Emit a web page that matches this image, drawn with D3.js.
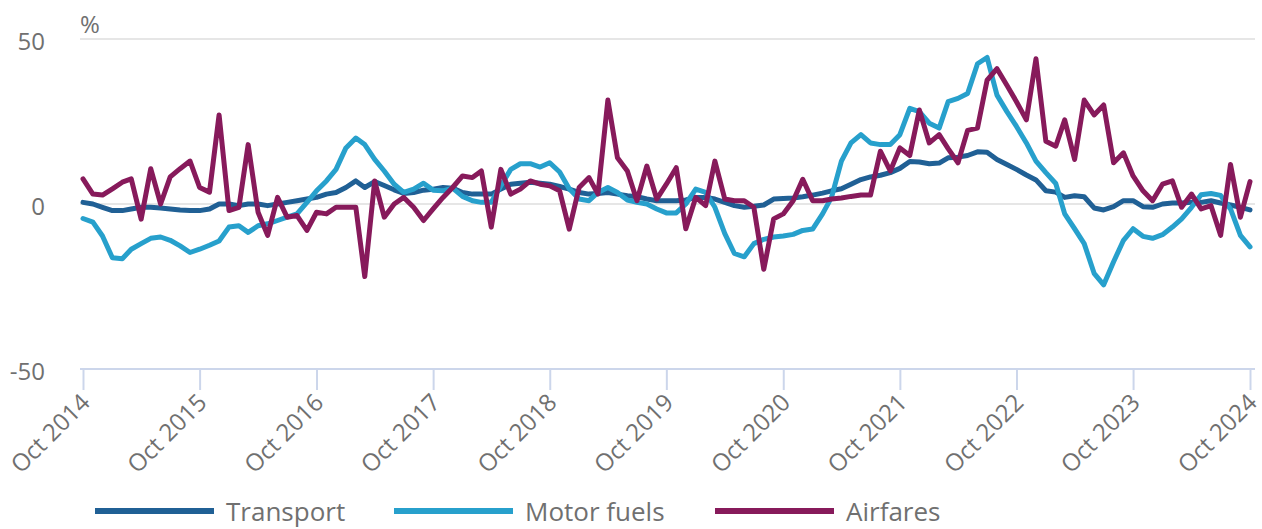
<!DOCTYPE html>
<html>
<head>
<meta charset="utf-8">
<script src="https://cdn.jsdelivr.net/npm/d3@7"></script>
<style>
  body { margin: 0; background: #fff; }
  text { font-family: "Open Sans", sans-serif; fill: #707070; }
</style>
</head>
<body>
<svg id="chart" width="1262" height="529"></svg>
<script>
// monthly annual rates, Oct 2014 .. Oct 2024
const startMonth = new Date(2014, 9, 1);

const transport = [
  0.5, 0, -1, -2, -2, -1.5, -1, -1, -1.2, -1.5, -1.8, -2, -2, -1.5, 0, 0, -0.5, 0, 0, -0.5,
  0, 0.5, 1, 1.5, 2, 3, 3.5, 5, 7, 5, 6.8, 5.6, 4.3, 3.2, 3.5, 4.2, 4.5, 5, 4.8, 3.5,
  3, 3, 3, 4.5, 6, 6.3, 6.6, 6.3, 6, 5.3, 4.5, 3.5, 3, 3.2, 3.5, 3, 2.5, 2.2, 1.5, 1,
  1, 1, 1.2, 2, 2, 1.5, 0.5, -0.5, -1, -0.7, -0.3, 1.5, 1.7, 1.8, 2.2, 2.7, 3.3, 4, 4.6, 6,
  7.4, 8.2, 8.7, 9.5, 10.8, 12.9, 12.7, 12.2, 12.4, 14, 14.2, 14.7, 15.8, 15.7, 13.5, 12, 10.5, 8.8, 7.3, 4,
  3.6, 2, 2.5, 2.2, -1.2, -1.8, -0.8, 1, 1, -0.8, -1, 0, 0.3, 0.3, 0.5, 0.5, 1, 0.3, -0.3, -1,
  -1.8
];

const motorFuels = [
  -4.4, -5.5, -9.7, -16.3, -16.6, -13.7, -12, -10.4, -10, -11, -12.7, -14.7, -13.7, -12.5, -11.2, -7, -6.6, -8.6, -6.6, -6,
  -5, -4, -3, 0.5, 4, 7, 10.5, 17, 20, 18, 13.5, 10, 6, 3.5, 4.5, 6.3, 4.2, 4, 4.8, 2.3,
  1, 0.5, 0.5, 5.5, 10.5, 12.2, 12.2, 11.2, 12.5, 9.7, 4.6, 1.5, 1, 3.5, 5, 3.5, 1.2, 0.5, 0, -1.5,
  -2.7, -2.7, 0, 4.5, 3.5, -1, -9, -15, -16, -12, -10.7, -10, -9.7, -9.2, -8, -7.6, -3, 2, 13, 18.5,
  21, 18.5, 18, 18, 21, 29, 28, 24.5, 23, 31, 32, 33.5, 42.5, 44.4, 33, 28, 23.5, 18.5, 13, 9.5,
  6.2, -3, -7.5, -12, -21, -24.5, -17.5, -11, -7.5, -9.8, -10.4, -9.3, -7, -4.5, -1, 2.8, 3.2, 2.6, -1.5, -9.5,
  -13
];

const airfares = [
  7.6, 3, 2.7, 4.6, 6.6, 7.6, -4.6, 10.7, 0, 8.2, 10.7, 13, 5, 3.6, 27, -2, -1, 18, -2.5, -9.5,
  2, -4, -3.5, -8, -2.5, -3, -1, -1, -1, -22, 7, -4, 0, 2, -1, -5, -1.5, 2, 5, 8.5,
  8, 10, -7, 10.5, 3, 4.5, 7, 6, 5.5, 4, -7.6, 5, 8, 3, 31.5, 14, 10, 1, 11.5, 1.5,
  6, 11, -7.5, 2, -0.5, 13, 1.5, 1, 1, -1, -19.8, -4.5, -3, 1, 7.5, 1, 1, 1.5, 1.8, 2.3,
  2.7, 2.7, 16, 10, 17, 14.7, 28.5, 18.5, 21, 16.8, 12.5, 22.3, 23, 37.5, 41, 36, 31, 25.5, 44, 19,
  17.5, 25.5, 13.5, 31.5, 27, 30, 12.5, 15.5, 8.5, 4, 1, 6, 7, -1, 3, -1.5, -0.5, -9.5, 12, -4,
  6.8
];

const seriesNames = ["Transport", "Motor fuels", "Airfares"];
const seriesColors = ["#206095", "#27a0cc", "#871a5b"];
const yTicks = [-50, 0, 50];
const tickYears = d3.range(2014, 2025);

const svg = d3.select("#chart");

const x = d3.scaleTime()
  .domain([startMonth, new Date(2024, 9, 1)])
  .range([83, 1250]);

const y = d3.scaleLinear()
  .domain([-50, 50])
  .range([369, 39]);

// gridlines
svg.append("g")
  .selectAll("line")
  .data(yTicks.filter(d => d !== -50))
  .join("line")
  .attr("x1", 80).attr("x2", 1255)
  .attr("y1", d => y(d)).attr("y2", d => y(d))
  .attr("stroke", "#e6e6e6")
  .attr("stroke-width", 2);

// y labels
svg.append("g")
  .selectAll("text")
  .data(yTicks)
  .join("text")
  .attr("x", 45)
  .attr("y", d => y(d) + 11)
  .attr("text-anchor", "end")
  .style("font-size", "24px")
  .text(d => d);

svg.append("text")
  .attr("x", 80).attr("y", 33)
  .style("font-size", "24px")
  .text("%");

// x axis
svg.append("line")
  .attr("x1", 80).attr("x2", 1255)
  .attr("y1", 369).attr("y2", 369)
  .attr("stroke", "#ccd6eb")
  .attr("stroke-width", 2);

const tickDates = tickYears.map(yr => new Date(yr, 9, 1));

const xAxis = svg.append("g")
  .attr("transform", "translate(0,369)")
  .call(d3.axisBottom(x)
    .tickValues(tickDates)
    .tickSize(21)
    .tickFormat(d3.timeFormat("%b %Y")));

xAxis.select(".domain").remove();
xAxis.selectAll(".tick line")
  .attr("stroke", "#ccd6eb")
  .attr("stroke-width", 2);
xAxis.selectAll(".tick text")
  .attr("y", 0).attr("dy", 0)
  .attr("text-anchor", "end")
  .attr("transform", "translate(8,35) rotate(-45)")
  .style("font-size", "24px")
  .style("font-family", "'Open Sans', sans-serif")
  .attr("fill", "#707070");

// lines
const allSeries = [transport, motorFuels, airfares];
const line = d3.line()
  .x((d, i) => x(d3.timeMonth.offset(startMonth, i)))
  .y(d => y(d));

svg.append("g")
  .selectAll("path")
  .data(allSeries)
  .join("path")
  .attr("d", d => line(d))
  .attr("fill", "none")
  .attr("stroke", (d, i) => seriesColors[i])
  .attr("stroke-width", 5)
  .attr("stroke-linejoin", "round")
  .attr("stroke-linecap", "round");

// legend
const legendX = [95, 394, 715];
const legend = svg.append("g")
  .selectAll("g")
  .data(seriesNames)
  .join("g")
  .attr("transform", (d, i) => `translate(${legendX[i]},511)`);

legend.append("line")
  .attr("x1", 0).attr("x2", 119)
  .attr("stroke", (d, i) => seriesColors[i])
  .attr("stroke-width", 6);

legend.append("text")
  .attr("x", 131)
  .attr("y", 10)
  .style("font-size", "26px")
  .text(d => d);
</script>
</body>
</html>
